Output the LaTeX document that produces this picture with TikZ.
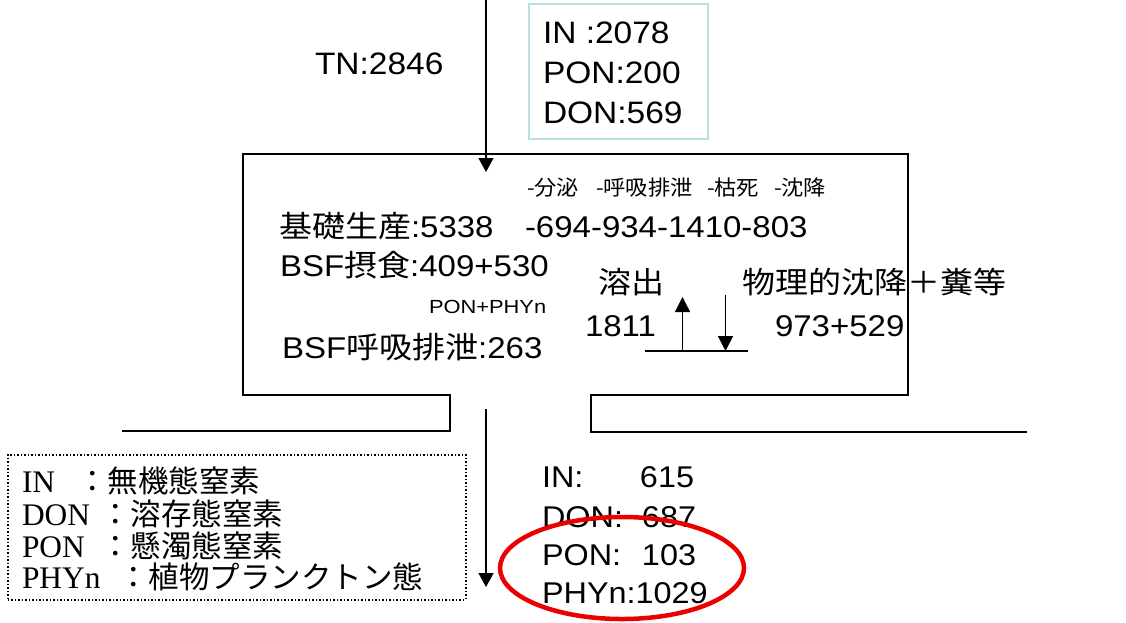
\documentclass[tikz,border=0pt]{standalone}
\usepackage{fontspec}
\setmainfont{Liberation Sans}
\newfontfamily\latf[FakeStretch=1.08]{Liberation Sans}
\newfontfamily\latm[FakeStretch=1.1]{Liberation Sans}
\newfontfamily\ponf[FakeStretch=1.15]{Liberation Sans}
\newfontfamily\cjkf[FakeStretch=1.1]{Noto Sans CJK JP}
\newfontfamily\cjks[FakeStretch=1.06]{Noto Sans CJK JP}
\newfontfamily\legf[Scale=1.03]{Liberation Serif}
\newfontfamily\legj{Noto Sans CJK JP}
\newcommand\jp[1]{{\cjkf #1}}
\newcommand\lj[1]{{\legj #1}}
\usetikzlibrary{arrows.meta,shapes.geometric}
\definecolor{boxblue}{RGB}{185,222,228}
\definecolor{ellred}{RGB}{235,0,0}
\begin{document}
\begin{tikzpicture}[x=1pt,y=-1pt,
  txt/.style={anchor=base west, inner sep=0pt, outer sep=0pt},
  big/.style={txt, font=\fontsize{31}{31}\selectfont\latf},
  mid/.style={txt, font=\fontsize{30}{30}\selectfont\latm},
  bot/.style={txt, font=\fontsize{30}{30}\selectfont\latf},
  small/.style={txt, font=\fontsize{21}{21}\selectfont\cjks},
  leg/.style={txt, font=\fontsize{30.5}{30.5}\selectfont\legf},
  frame/.style={line width=1.6pt},
  arr/.style={line width=1.3pt, -{Triangle[length=14pt,width=15pt]}},
]
\useasboundingbox (0,0) rectangle (1126,622);

% main box with notches
\draw[frame] (122,431) -- (450,431) -- (450,395) -- (243,395) -- (243,154)
  -- (908,154) -- (908,395) -- (591,395) -- (591,432) -- (1027,432);

% top input box
\node[draw=boxblue, line width=1.5pt, minimum width=179pt, minimum height=135pt,
  anchor=north west, inner sep=0pt] (inbox) at (528,3) {};
\node[big] (in1) at (543,43) {IN :2078};
\node[big] (in2) at (543,83) {PON:200};
\node[big] (in3) at (543,123) {DON:569};
\node[big] (tn) at (315,74) {TN:2846};

% arrows in/out
\coordinate (tin) at (486,0);
\coordinate (tbox) at (486,172);
\draw[arr] (tin) -- (tbox);
\coordinate (bfrom) at (486,409);
\coordinate (bto) at (486,587);
\draw[arr] (bfrom) -- (bto);

% small header line
\node[small] (h1) at (527,195) {-分泌};
\node[small] (h2) at (596,195) {-呼吸排泄};
\node[small] (h3) at (707,195) {-枯死};
\node[small] (h4) at (774,195) {-沈降};

% main box texts
\node[mid] (gp) at (279,237) {\jp{基礎生産}:5338};
\node[mid] (loss) at (525,237) {-694-934-1410-803};
\node[mid] (bsf) at (280,276) {BSF\jp{摂食}:409+530};
\node[txt, font=\fontsize{19}{19}\selectfont\ponf] (pp) at (429,313) {PON+PHYn};
\node[mid] (bsfr) at (282,358) {BSF\jp{呼吸排泄}:263};
\node[mid] (yo) at (598,293) {\jp{溶出}};
\node[mid] (yov) at (585,336) {1811};
\node[mid] (bu) at (742,293) {\jp{物理的沈降＋糞等}};
\node[mid] (buv) at (775,336) {973+529};

% sediment exchange arrows
\coordinate (sl) at (645,351);
\coordinate (sr) at (748,351);
\draw[line width=1.3pt] (sl) -- (sr);
\coordinate (ua) at (682.5,351);
\coordinate (ub) at (682.5,297);
\draw[line width=1.3pt, -{Triangle[length=15pt,width=15pt]}] (ua) -- (ub);
\coordinate (da) at (725.5,295);
\coordinate (db) at (725.5,351);
\draw[line width=1.3pt, -{Triangle[length=15pt,width=15pt]}] (da) -- (db);

% output texts
\node[bot] (o1) at (542,487) {\makebox[98pt][l]{IN:}615};
\node[bot] (o2) at (542,527) {\makebox[100pt][l]{DON:}687};
\node[bot] (o3) at (542,565) {\makebox[100pt][l]{PON:}103};
\node[bot] (o4) at (542,603) {PHYn:1029};

% red ellipse
\node[ellipse, draw=ellred, line width=4.5pt, minimum width=244pt, minimum height=102pt,
  inner sep=0pt] (circ) at (622,568) {};

% legend
\node[draw, dotted, line width=1.5pt, minimum width=458pt, minimum height=145pt,
  anchor=north west, inner sep=0pt] (legbox) at (7,454) {};
\node[leg] (l1) at (22,492) {\makebox[55pt][l]{IN}\lj{：無機態窒素}};
\node[leg] (l2) at (22,525) {\makebox[78pt][l]{DON}\lj{：溶存態窒素}};
\node[leg] (l3) at (22,557) {\makebox[78pt][l]{PON}\lj{：懸濁態窒素}};
\node[leg] (l4) at (22,588) {\makebox[96pt][l]{PHYn}\lj{：植物プランクトン態}};
\end{tikzpicture}
\end{document}
